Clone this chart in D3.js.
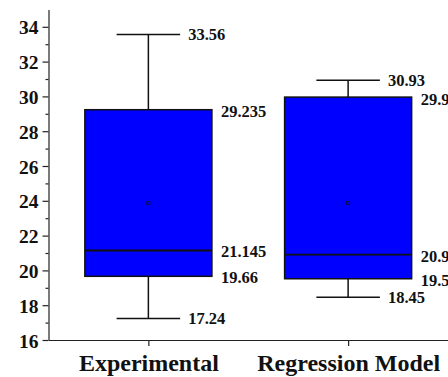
<!DOCTYPE html>
<html>
<head>
<meta charset="utf-8">
<title>Box chart</title>
<script src="https://d3js.org/d3.v7.min.js"></script>
<style>
  body { margin: 0; background: #fff; }
  svg { display: block; font-family: "Liberation Serif", "Times New Roman", serif; font-weight: bold; }
</style>
</head>
<body>
<script>
// data
const groups = ["Experimental", "Regression Model"];
const mins    = [17.24, 18.45];
const q1s     = [19.66, 19.52];
const medians = [21.145, 20.905];
const q3s     = [29.235, 29.96];
const maxs    = [33.56, 30.93];
const means   = [23.87, 23.87];
const minLabels = ["17.24", "18.45"];
const q1Labels  = ["19.66", "19.52"];
const medLabels = ["21.145", "20.905"];
const q3Labels  = ["29.235", "29.96"];
const maxLabels = ["33.56", "30.93"];
const yTicks = [16, 18, 20, 22, 24, 26, 28, 30, 32, 34];

const w = 448, h = 377;
const left = 48.5, bottom = 340;

const svg = d3.select("body").append("svg").attr("width", w).attr("height", h);

const y = d3.scaleLinear().domain([16, 35]).range([bottom, 9.4]);
const x = d3.scalePoint().domain(groups).range([left, w]).padding(0.5);
const boxW = x.step() * 0.636;
const capW = boxW / 2;

// y axis
const yAxis = svg.append("g").attr("transform", `translate(${left},0)`)
  .call(d3.axisLeft(y).tickValues(yTicks).tickSize(6).tickSizeOuter(0).tickPadding(4));
yAxis.select(".domain").attr("stroke", "#222").attr("stroke-width", 1.2);
yAxis.selectAll(".tick line").attr("stroke", "#222").attr("stroke-width", 1.2);
yAxis.selectAll(".tick text").attr("font-size", 19.5).attr("font-family", "Liberation Serif")
  .attr("font-weight", "bold").attr("fill", "#111").attr("dy", "0.36em");
// minor ticks
svg.append("g").attr("transform", `translate(${left},0)`)
  .call(d3.axisLeft(y).tickValues(d3.range(17, 35, 2)).tickSize(3).tickFormat(""))
  .call(g => g.select(".domain").remove())
  .selectAll(".tick line").attr("stroke", "#222").attr("stroke-width", 1.2);

// x axis
const xAxis = svg.append("g").attr("transform", `translate(0,${bottom})`)
  .call(d3.axisBottom(x).tickSize(6).tickSizeOuter(0).tickPadding(8));
xAxis.select(".domain").attr("stroke", "#222").attr("stroke-width", 1.2);
xAxis.selectAll(".tick line").attr("stroke", "#222").attr("stroke-width", 1.2);
xAxis.selectAll(".tick text").attr("font-size", 24).attr("font-family", "Liberation Serif")
  .attr("font-weight", "bold").attr("fill", "#111");

const g = svg.selectAll(".box").data(groups).enter().append("g").attr("class", "box");

// whiskers
g.append("line")
  .attr("x1", d => x(d)).attr("x2", d => x(d))
  .attr("y1", (d, i) => y(maxs[i])).attr("y2", (d, i) => y(q3s[i]))
  .attr("stroke", "#111").attr("stroke-width", 1.5);
g.append("line")
  .attr("x1", d => x(d)).attr("x2", d => x(d))
  .attr("y1", (d, i) => y(q1s[i])).attr("y2", (d, i) => y(mins[i]))
  .attr("stroke", "#111").attr("stroke-width", 1.5);
g.append("line")
  .attr("x1", d => x(d) - capW / 2).attr("x2", d => x(d) + capW / 2)
  .attr("y1", (d, i) => y(maxs[i])).attr("y2", (d, i) => y(maxs[i]))
  .attr("stroke", "#111").attr("stroke-width", 1.5);
g.append("line")
  .attr("x1", d => x(d) - capW / 2).attr("x2", d => x(d) + capW / 2)
  .attr("y1", (d, i) => y(mins[i])).attr("y2", (d, i) => y(mins[i]))
  .attr("stroke", "#111").attr("stroke-width", 1.5);

// boxes
g.append("rect")
  .attr("x", d => x(d) - boxW / 2)
  .attr("width", boxW)
  .attr("y", (d, i) => y(q3s[i]))
  .attr("height", (d, i) => y(q1s[i]) - y(q3s[i]))
  .attr("fill", "#0000ff").attr("stroke", "#111").attr("stroke-width", 1.5);
g.append("line")
  .attr("x1", d => x(d) - boxW / 2).attr("x2", d => x(d) + boxW / 2)
  .attr("y1", (d, i) => y(medians[i])).attr("y2", (d, i) => y(medians[i]))
  .attr("stroke", "#111").attr("stroke-width", 1.8);
// mean marker
g.append("rect")
  .attr("x", d => x(d) - 1.5).attr("y", (d, i) => y(means[i]) - 1.5)
  .attr("width", 3).attr("height", 3)
  .attr("fill", "none").attr("stroke", "#111").attr("stroke-width", 0.8);

// value labels
function label(vals, texts, dx, dy) {
  g.append("text")
    .attr("x", d => x(d) + dx)
    .attr("y", (d, i) => y(vals[i]) + dy)
    .attr("dy", "0.36em")
    .attr("font-size", 16.5)
    .attr("fill", "#111")
    .text((d, i) => texts[i]);
}
label(maxs, maxLabels, capW / 2 + 8, 0);
label(mins, minLabels, capW / 2 + 8, 0);
label(q3s, q3Labels, boxW / 2 + 9, 1.5);
label(medians, medLabels, boxW / 2 + 9, 1);
label(q1s, q1Labels, boxW / 2 + 9, 1);
</script>
</body>
</html>
